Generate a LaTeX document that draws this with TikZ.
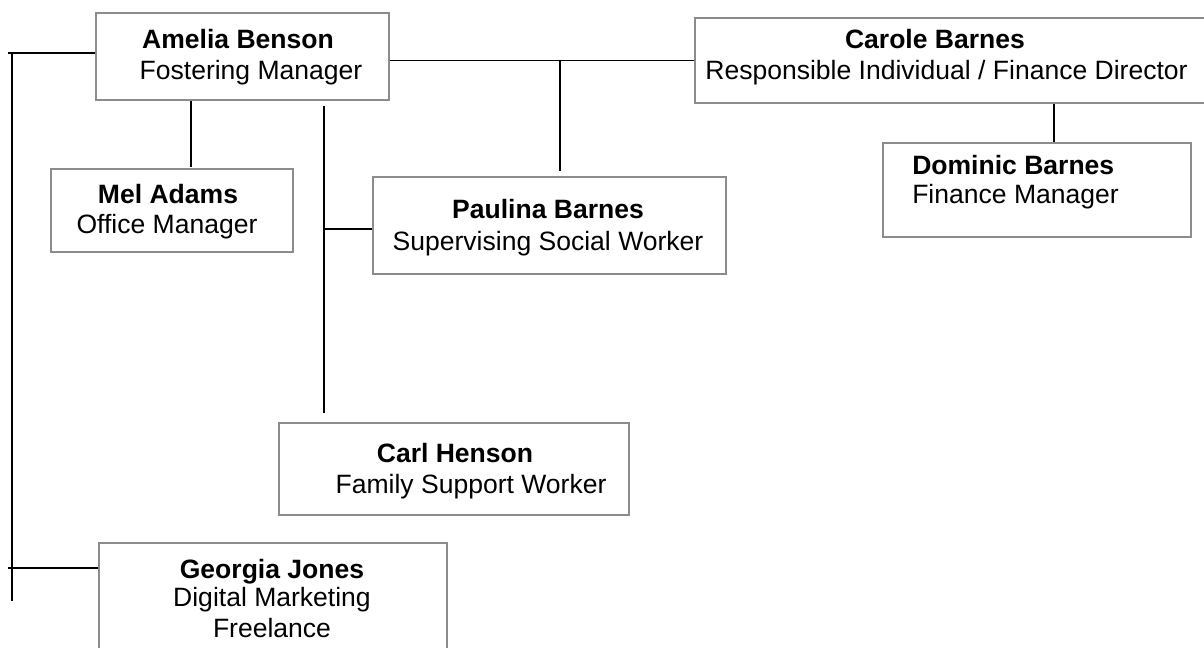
\documentclass[tikz,border=0pt]{standalone}
\usepackage{fontspec}
\setmainfont{Liberation Sans}
\definecolor{boxgray}{RGB}{140,140,140}
\begin{document}
\begin{tikzpicture}[x=0.75pt,y=-0.75pt,
  box/.style 2 args={draw=boxgray,line width=1.1pt,fill=white,rectangle,inner sep=0pt,
     minimum width=#1*0.75pt,minimum height=#2*0.75pt},
  title/.style={inner sep=0pt,anchor=base,font=\fontsize{19.9}{23}\selectfont\bfseries},
  role/.style={inner sep=0pt,anchor=base,font=\fontsize{19.9}{23}\selectfont},
  link/.style={draw=black,line width=0.8pt}]
\useasboundingbox (0,0) rectangle (1204,648);
\fill[white] (0,0) rectangle (1204,648);
% boxes
\node[box={293}{87}] (amelia) at (242.5,56.5) {};
\node[box={242}{83}] (mel) at (172,210.5) {};
\node[box={353}{97}] (paulina) at (549.5,225.5) {};
\node[box={525}{85}] (carole) at (957.5,60.5) {};
\node[box={308}{94}] (dominic) at (1037,190) {};
\node[box={350}{92}] (carl) at (454,469) {};
\node[box={348}{157}] (georgia) at (273,621.5) {};
% texts
\node[title] (ameliaA) at (238,49) {Amelia Benson};
\node[role] (ameliaB) at (251,80) {Fostering Manager};
\node[title] (melA) at (168,204) {Mel Adams};
\node[role] (melB) at (167,234) {Office Manager};
\node[title] (paulinaA) at (548,219) {Paulina Barnes};
\node[role] (paulinaB) at (548,251) {Supervising Social Worker};
\node[title] (caroleA) at (935,49) {Carole Barnes};
\node[role] (caroleB) at (946.5,80) {Responsible Individual / Finance Director};
\node[title,anchor=base west] (dominicA) at (912,175) {Dominic Barnes};
\node[role,anchor=base west] (dominicB) at (912,204) {Finance Manager};
\node[title] (carlA) at (455,463) {Carl Henson};
\node[role] (carlB) at (471,494) {Family Support Worker};
\node[title] (georgiaA) at (272,579) {Georgia Jones};
\node[role] (georgiaB) at (272,607) {Digital Marketing};
\node[role] (georgiaC) at (272,638) {Freelance};
% free ends
\coordinate (pbtop) at (560,171);
\coordinate (cdx) at (1054,0);
\coordinate (mx) at (191,167);
\coordinate (avtop) at (324,106);
\coordinate (avbot) at (324,413);
\coordinate (pbr) at (324,229);
\coordinate (lbl) at (8,53);
\coordinate (lbtop) at (12,53);
\coordinate (lbbot) at (12,601);
\coordinate (gl) at (8,568);
% connectors
\draw[link] (carole.west) -- (carole.west -| amelia.east);
\draw[link] (pbtop) -- (pbtop |- carole.west);
\draw[link] (carole.south -| cdx) -- (dominic.north -| cdx);
\draw[link] (mx |- amelia.south) -- (mx);
\draw[link] (avtop) -- (avbot);
\draw[link] (pbr) -- (paulina.west |- pbr);
\draw[link] (lbl) -- (lbl -| amelia.west);
\draw[link] (lbtop) -- (lbbot);
\draw[link] (gl) -- (gl -| georgia.west);
\end{tikzpicture}
\end{document}
